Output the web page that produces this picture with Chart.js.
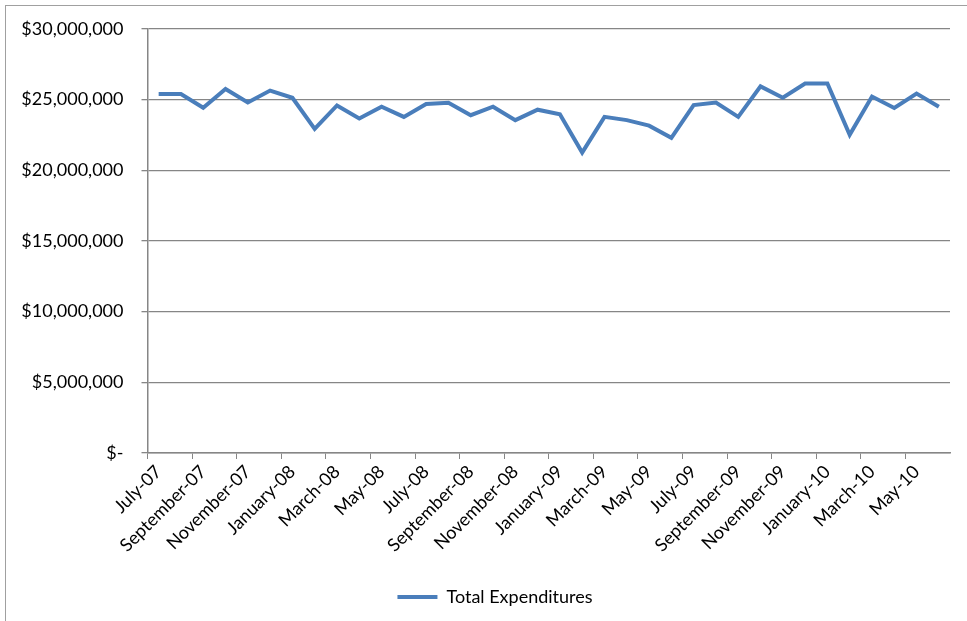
<!DOCTYPE html>
<html>
<head>
<meta charset="utf-8">
<script src="https://cdn.jsdelivr.net/npm/chart.js"></script>
<style>
  body { margin: 0; padding: 0; background: #fff; }
  #frame { position: absolute; left: 5px; top: 5px; width: 962px; height: 616px;
           border-top: 1.5px solid #a0a0a0; border-left: 1.5px solid #a0a0a0; }
  canvas { position: absolute; left: 0; top: 0; }
</style>
</head>
<body>
<div id="frame"></div>
<canvas id="chart" width="967" height="621"></canvas>
<script>
// Monthly totals, July 2007 through June 2010
const months = [
  "July-07", "August-07", "September-07", "October-07", "November-07", "December-07",
  "January-08", "February-08", "March-08", "April-08", "May-08", "June-08",
  "July-08", "August-08", "September-08", "October-08", "November-08", "December-08",
  "January-09", "February-09", "March-09", "April-09", "May-09", "June-09",
  "July-09", "August-09", "September-09", "October-09", "November-09", "December-09",
  "January-10", "February-10", "March-10", "April-10", "May-10", "June-10"
];

const totalExpenditures = [
  25390000, 25390000, 24420000, 25740000, 24790000, 25630000,
  25120000, 22920000, 24580000, 23660000, 24490000, 23770000,
  24680000, 24770000, 23890000, 24490000, 23540000, 24280000,
  23960000, 21250000, 23770000, 23540000, 23150000, 22290000,
  24610000, 24790000, 23770000, 25930000, 25120000, 26130000,
  26130000, 22500000, 25210000, 24400000, 25420000, 24490000
];

const yTicks = [0, 5000000, 10000000, 15000000, 20000000, 25000000, 30000000];

const FONT = "Lato, 'Liberation Sans', sans-serif";
const AXIS_GRAY = "#868686";

function dollars(v) {
  if (v === 0) return "$-";
  return "$" + v.toLocaleString("en-US");
}

// the legend sits a little right of the canvas centre
const legendShift = {
  id: "legendShift",
  afterLayout(chart) {
    chart.legend.left += 20;
    chart.legend.right += 20;
  }
};

new Chart(document.getElementById("chart"), {
  type: "line",
  data: {
    labels: months,
    datasets: [{
      label: "Total Expenditures",
      data: totalExpenditures,
      borderColor: "#4a7ebb",
      backgroundColor: "#4a7ebb",
      borderWidth: 4,
      tension: 0,
      pointRadius: 0,
      pointStyle: "line",
      fill: false
    }]
  },
  plugins: [legendShift],
  options: {
    responsive: false,
    animation: false,
    layout: { padding: { top: 15, left: 0, right: 17, bottom: 5 } },
    plugins: {
      tooltip: { enabled: false },
      legend: {
        position: "bottom",
        labels: {
          usePointStyle: true,
          pointStyleWidth: 40,
          color: "#000",
          font: { family: FONT, size: 18 },
          padding: 12
        }
      }
    },
    scales: {
      x: {
        offset: true,
        grid: {
          offset: true,
          drawOnChartArea: false,
          drawTicks: true,
          tickLength: 6,
          color: (ctx) => (ctx.index % 2 === 0 ? AXIS_GRAY : "rgba(0,0,0,0)")
        },
        border: { color: AXIS_GRAY, width: 1.5 },
        ticks: {
          autoSkip: false,
          maxRotation: 45,
          minRotation: 45,
          padding: 2,
          color: "#000",
          font: { family: FONT, size: 18 },
          callback: function (val, i) { return i % 2 === 0 ? this.getLabelForValue(val) : ""; }
        },
        afterFit: (scale) => { scale.height = 123; }
      },
      y: {
        min: 0,
        max: 30000000,
        afterBuildTicks: (scale) => { scale.ticks = yTicks.map(v => ({ value: v })); },
        grid: { color: AXIS_GRAY, lineWidth: 1.3, tickLength: 6 },
        border: { color: AXIS_GRAY, width: 1.5 },
        ticks: {
          padding: 18,
          color: "#000",
          font: { family: FONT, size: 18 },
          callback: (v) => dollars(v)
        },
        afterFit: (scale) => { scale.width = 147.5; }
      }
    }
  }
});
</script>
</body>
</html>
